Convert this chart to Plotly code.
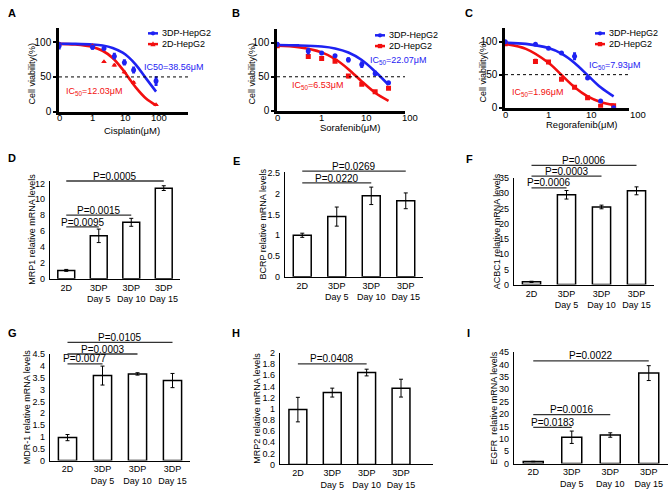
import math
import plotly.graph_objects as go

W, H = 669, 492
FONT = "Arial, Liberation Sans, sans-serif"
BLUE = "#1e22f2"
RED = "#f20f0f"


def px(x):
    return x / W


def py(y):
    return 1 - y / H


# ---------------- dose-response data (A, B, C) ----------------
doseA = [0.1, 1, 2.2, 4.5, 9, 17, 80]
a_3dp = [95, 93, 91, 80, 71, 60, 44]
a_3dp_err = [5.5, 3.6, 1.5, 5, 4.5, 5, 7]
a_2d = [98, 95, 72, 67, 57, 42, 10]
a_2d_err = [2, 2, 1, 2, 2, 2, 1]
fitA_x = [0.1, 0.3, 1, 2, 4, 8, 12, 20, 40, 80]
fitA_3dp = [97.9, 97.7, 96.8, 95.3, 91.9, 85.1, 78.6, 67.4, 47.9, 28.8]
fitA_2d = [97.7, 96.8, 93.3, 87.8, 77.4, 60.8, 49.0, 34.5, 18.8, 9.1]

doseB = [0.1, 0.5, 1, 2, 4, 8, 16, 32]
b_3dp = [98, 88, 85, 81, 75, 68, 55, 41]
b_3dp_err = [3.5, 5, 1, 1, 4, 5, 4, 1]
b_2d = [96, 80, 77, 73, 51, 39, 28, 33]
b_2d_err = [1, 1, 1, 1, 3, 1, 1, 1]
fitB_x = [0.1, 0.3, 1, 2, 4, 8, 16, 32]
fitB_3dp = [96.9, 96.4, 94.7, 91.9, 85.9, 74.8, 57.7, 37.9]
fitB_2d = [96.0, 93.8, 86.1, 76.3, 61.3, 43.1, 26.4, 14.4]

doseC = [0.1, 0.5, 1, 2, 4, 8, 16, 32]
c_3dp = [100, 96, 90, 83, 78, 45, 10, 0]
c_3dp_err = [1, 1, 1, 1, 6, 1, 1, 1]
c_2d = [97, 70, 69, 43, 31, 15, 2, 3]
c_2d_err = [1, 4, 1, 2, 2, 1, 1, 1]
fitC_x = [0.1, 0.3, 1, 2, 4, 8, 16, 32]
fitC_3dp = [98.3, 96.6, 90.3, 81.8, 67.7, 49.3, 30.8, 17.0]
fitC_2d = [96.6, 89.1, 68.0, 49.5, 31.0, 17.2, 8.7, 4.2]

dose_ticks = [0.1, 1, 10, 100]
dose_ticktext = ["0", "1", "10", "100"]

# ---------------- bar data (D - I) ----------------
groups = ["2D", "3DP<br>Day 5", "3DP<br>Day 10", "3DP<br>Day 15"]
mrp1 = [1.05, 5.4, 7.1, 11.4]
mrp1_err = [0.12, 0.85, 0.5, 0.3]
bcrp = [1.0, 1.45, 1.95, 1.83]
bcrp_err = [0.05, 0.23, 0.21, 0.19]
acbc1 = [0.9, 29.5, 25.5, 30.8]
acbc1_err = [0.2, 1.4, 0.6, 1.3]
mdr1 = [0.97, 3.59, 3.66, 3.38]
mdr1_err = [0.13, 0.4, 0.05, 0.3]
mrp2 = [0.985, 1.29, 1.65, 1.37]
mrp2_err = [0.22, 0.08, 0.06, 0.16]
egfr = [0.8, 10.6, 11.5, 36.5]
egfr_err = [0.1, 2.5, 0.9, 3.0]

fig = go.Figure()
layout = dict(
    width=W, height=H, margin=dict(l=0, r=0, t=0, b=0),
    showlegend=False, plot_bgcolor="white", paper_bgcolor="white",
    font=dict(family=FONT, color="black", size=10),
)
shapes = []
annotations = []


def ann(x, y, text, size=10, color="black", xanchor="center", yanchor="middle",
        angle=0, bold=False, xref="paper", yref="paper"):
    annotations.append(dict(
        x=x, y=y, xref=xref, yref=yref, text=("<b>%s</b>" % text) if bold else text,
        showarrow=False, xanchor=xanchor, yanchor=yanchor, textangle=angle,
        font=dict(family=FONT, size=size, color=color), borderpad=0,
    ))


# ---------------- dose panels ----------------
dose_panels = [
    # id, xdom, ydom, xrange, ..., red symbol, tick-label row y (px), x of "100" if outside range
    (1, (59, 188), (24, 109), [-1.005, 2.86], doseA, a_3dp, a_3dp_err, a_2d, a_2d_err,
     fitA_x, fitA_3dp, fitA_2d, "triangle-up", 115, None),
    (2, (277, 405), (25, 108), [-1.005, 1.876], doseB, b_3dp, b_3dp_err, b_2d, b_2d_err,
     fitB_x, fitB_3dp, fitB_2d, "square", 115, 410),
    (3, (505, 629), (24, 105), [-1.005, 1.86], doseC, c_3dp, c_3dp_err, c_2d, c_2d_err,
     fitC_x, fitC_3dp, fitC_2d, "square", 112, 638),
]

for (n, xd, yd, xr, dose, v3, e3, v2, e2, fx, f3, f2, rsym, tky, x100) in dose_panels:
    xa = "x" if n == 1 else "x%d" % n
    ya = "y" if n == 1 else "y%d" % n
    xkey = "xaxis" if n == 1 else "xaxis%d" % n
    ykey = "yaxis" if n == 1 else "yaxis%d" % n
    layout[xkey] = dict(
        domain=[px(xd[0]), px(xd[1])], anchor=ya, type="log", range=xr,
        tickvals=dose_ticks, showticklabels=False, showline=True, linecolor="black",
        linewidth=2.5, ticks="", showgrid=False, zeroline=False,
    )
    layout[ykey] = dict(
        domain=[py(yd[1]), py(yd[0])], anchor=xa, range=[0, 120],
        tickvals=[0, 50, 100], showline=True, linecolor="black", linewidth=2.5,
        ticks="outside", ticklen=3, tickwidth=2, tickcolor="black",
        showgrid=False, zeroline=False, tickfont=dict(size=10),
    )
    # dose tick labels placed on the log axis
    for tv, tt in zip(dose_ticks, dose_ticktext):
        lv = math.log10(tv)
        if lv <= xr[1]:
            ann(lv, py(tky), tt, size=9.5, xref=xa)
        elif x100 is not None:
            ann(px(x100), py(tky), tt, size=9.5)
    fig.add_trace(go.Scatter(x=fx, y=f2, mode="lines", line=dict(color=RED, width=2.6, shape="spline"),
                             xaxis=xa, yaxis=ya))
    fig.add_trace(go.Scatter(x=fx, y=f3, mode="lines", line=dict(color=BLUE, width=2.6, shape="spline"),
                             xaxis=xa, yaxis=ya))
    fig.add_trace(go.Scatter(x=dose, y=v2, mode="markers",
                             marker=dict(color=RED, size=5, symbol=rsym),
                             error_y=dict(type="data", array=e2, color=RED, thickness=3, width=0),
                             xaxis=xa, yaxis=ya))
    fig.add_trace(go.Scatter(x=dose, y=v3, mode="markers",
                             marker=dict(color=BLUE, size=5, symbol="circle"),
                             error_y=dict(type="data", array=e3, color=BLUE, thickness=3, width=0),
                             xaxis=xa, yaxis=ya))
    shapes.append(dict(type="line", xref="%s domain" % xa, yref=ya, x0=0, x1=1, y0=50, y1=50,
                       line=dict(color="black", width=1, dash="dot")))

# axis titles for dose panels
ann(px(132), py(128), "Cisplatin(μM)", size=9.5)
ann(px(350), py(125), "Sorafenib(μM)", size=9.5)
ann(px(581), py(122), "Regorafenib(μM)", size=9.5)
ann(px(32), py(70), "Cell viability(%)", size=9, angle=-90)
ann(px(252), py(70), "Cell viability(%)", size=9, angle=-90)
ann(px(483), py(68), "Cell viability(%)", size=9, angle=-90)

# IC50 labels
ann(px(143), py(63), "IC50=38.56μM", size=9, color=BLUE, xanchor="left")
ann(px(65), py(88), "IC<sub>50</sub>=12.03μM", size=9, color=RED, xanchor="left")
ann(px(369), py(57), "IC<sub>50</sub>=22.07μM", size=9, color=BLUE, xanchor="left")
ann(px(291), py(82), "IC<sub>50</sub>=6.53μM", size=9, color=RED, xanchor="left")
ann(px(588), py(62), "IC<sub>50</sub>=7.93μM", size=9, color=BLUE, xanchor="left")
ann(px(511), py(89), "IC<sub>50</sub>=1.96μM", size=9, color=RED, xanchor="left")


def legend_entry(x0, y, color, symbol, text):
    shapes.append(dict(type="line", xref="paper", yref="paper", x0=px(x0), x1=px(x0 + 10),
                       y0=py(y), y1=py(y), line=dict(color=color, width=2.5)))
    cx = x0 + 5
    if symbol == "circle":
        shapes.append(dict(type="circle", xref="paper", yref="paper", x0=px(cx - 2.2), x1=px(cx + 2.2),
                           y0=py(y + 2.2), y1=py(y - 2.2), fillcolor=color, line=dict(width=0)))
    elif symbol == "square":
        shapes.append(dict(type="rect", xref="paper", yref="paper", x0=px(cx - 2.2), x1=px(cx + 2.2),
                           y0=py(y + 2.2), y1=py(y - 2.2), fillcolor=color, line=dict(width=0)))
    else:
        path = "M %f %f L %f %f L %f %f Z" % (px(cx - 2.6), py(y + 2.2), px(cx + 2.6), py(y + 2.2),
                                             px(cx), py(y - 2.8))
        shapes.append(dict(type="path", xref="paper", yref="paper", path=path, fillcolor=color,
                           line=dict(width=0)))
    ann(px(x0 + 13), py(y), text, size=9, xanchor="left")


legend_entry(148, 29, BLUE, "circle", "3DP-HepG2")
legend_entry(148, 40, RED, "triangle", "2D-HepG2")
legend_entry(375, 31, BLUE, "circle", "3DP-HepG2")
legend_entry(375, 42, RED, "square", "2D-HepG2")
legend_entry(595, 29, BLUE, "circle", "3DP-HepG2")
legend_entry(595, 40, RED, "square", "2D-HepG2")

# ---------------- bar panels ----------------
bar_panels = [
    (4, (50, 180), (180, 280), [-0.5, 3.5], [0, 12.3], [0, 2, 4, 6, 8, 10, 12],
     ["0", "2", "4", "6", "8", "10", "12"], mrp1, mrp1_err, "MRP1 relative mRNA levels", 32,
     [(3, 180, "P=0.0005"), (2, 215, "P=0.0015"), (1, 227, "P=0.0095")]),
    (5, (285, 423), (171, 278), [-0.5, 3.5], [0, 2.52], [0, 0.5, 1, 1.5, 2, 2.5],
     ["0", "0.5", "1", "1.5", "2", "2.5"], bcrp, bcrp_err, "BCRP relative mRNA levels", 263,
     [(3, 170, "P=0.0269"), (2, 182, "P=0.0220")]),
    (6, (514, 654), (177, 286), [-0.5, 3.5], [0, 35], [0, 5, 10, 15, 20, 25, 30, 35],
     ["0", "5", "10", "15", "20", "25", "30", "35"], acbc1, acbc1_err, "ACBC1 relative mRNA levels", 497,
     [(3, 164, "P=0.0006"), (2, 175, "P=0.0003"), (1, 187, "P=0.0006")]),
    (7, (50, 190), (357, 466), [-0.5, 3.5], [0, 4.5], [0, 0.5, 1, 1.5, 2, 2.5, 3, 3.5, 4, 4.5],
     ["0", "0.5", "1", "1.5", "2", "2.5", "3", "3.5", "4", "4.5"], mdr1, mdr1_err,
     "MDR-1 relative mRNA levels", 27,
     [(3, 345, "P=0.0105"), (2, 357, "P=0.0003"), (1, 367, "P=0.0077")]),
    (8, (280, 433), (356, 470), [-0.52, 3.93], [0, 2], [0, 0.2, 0.4, 0.6, 0.8, 1, 1.2, 1.4, 1.6, 1.8, 2],
     ["0", "0.2", "0.4", "0.6", "0.8", "1", "1.2", "1.4", "1.6", "1.8", "2"], mrp2, mrp2_err,
     "MRP2 relative mRNA levels", 257,
     [(2, 367, "P=0.0408")]),
    (9, (514, 668), (355, 469), [-0.5, 3.5], [0, 45], [0, 5, 10, 15, 20, 25, 30, 35, 40, 45],
     ["0", "5", "10", "15", "20", "25", "30", "35", "40", "45"], egfr, egfr_err,
     "EGFR\u00a0 relative mRNA levels", 494,
     [(3, 364, "P=0.0022"), (2, 419, "P=0.0016"), (1, 432, "P=0.0183")]),
]

for (n, xd, yd, xr, yr, tv, tt, vals, errs, title, tx, sigs) in bar_panels:
    xa, ya = "x%d" % n, "y%d" % n
    layout["xaxis%d" % n] = dict(
        domain=[px(xd[0]), px(xd[1])], anchor=ya, range=xr, tickvals=[0, 1, 2, 3], ticktext=groups,
        showline=True, linecolor="black", linewidth=1.2, ticks="", showgrid=False, zeroline=False,
        tickfont=dict(size=9),
    )
    layout["yaxis%d" % n] = dict(
        domain=[py(yd[1]), py(yd[0])], anchor=xa, range=yr, tickvals=tv, ticktext=tt,
        showline=True, linecolor="black", linewidth=1.2, ticks="", showgrid=False, zeroline=False,
        tickfont=dict(size=9), ticklabelstandoff=2,
    )
    fig.add_trace(go.Bar(
        x=[0, 1, 2, 3], y=vals, width=0.52, xaxis=xa, yaxis=ya,
        marker=dict(color="white", line=dict(color="black", width=1.5)),
        error_y=dict(type="data", array=errs, color="black", thickness=1, width=2),
    ))
    ymid = (yd[0] + yd[1]) / 2
    ann(px(tx), py(ymid), title, size=9, angle=-90)
    for (end, ly, txt) in sigs:
        shapes.append(dict(type="line", xref=xa, yref="paper", x0=0, x1=end, y0=py(ly), y1=py(ly),
                           line=dict(color="#333333", width=1.3)))
        ann(end / 2, py(ly - 5), txt, size=10, xref=xa)

for letter, (lx, ly) in zip("ABCDEFGHI", [(12, 8), (236, 8), (469, 8), (12, 157), (236, 160),
                                          (469, 158), (12, 335), (236, 335), (468, 335)]):
    ann(px(lx), py(ly), letter, size=11, bold=True)

layout["shapes"] = shapes
layout["annotations"] = annotations
fig.update_layout(**layout)
fig.write_html(
    "out.html",
    config={"displayModeBar": False},
    post_script="document.body.style.margin='0';document.body.style.padding='0';"
                "document.body.style.overflow='hidden';",
)
